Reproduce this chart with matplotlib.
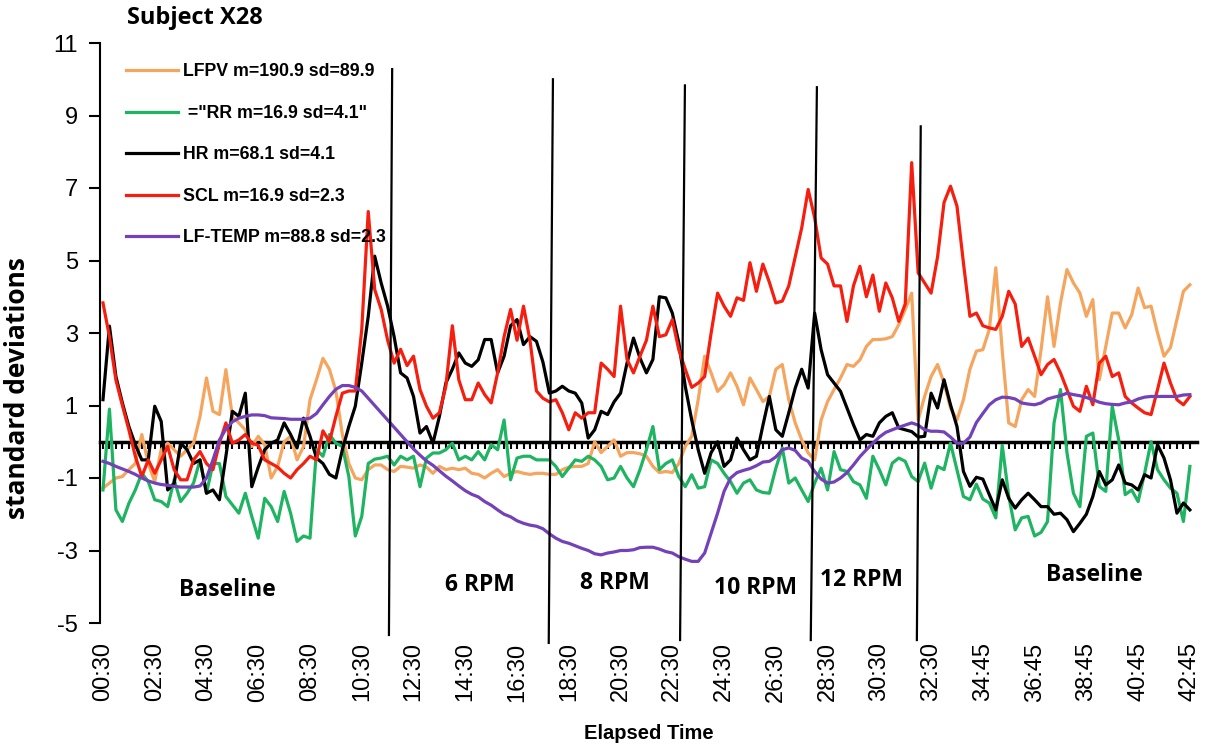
import numpy as np
import matplotlib
matplotlib.use('Agg')
import matplotlib.pyplot as plt

# z-scores, one sample every 15 s
lfpv = [-1.28, -1.14, -1.0, -0.96, -0.77, -0.6, 0.2, -0.6, -1.1, -0.22,
        -0.04, -0.22, -0.4, -0.22, -0.04, 0.7, 1.76, 0.84, 0.75, 1.99,
        0.7, 0.52, 0.33, -0.13, 0.15, -0.08, -1.0, -0.68, 0.0, 0.15,
        -0.5, -0.13, 1.16, 1.71, 2.3, 2.0, 1.4, 0.2, -0.6, -1.0,
        -1.05, -0.77, -0.64, -0.64, -0.77, -0.82, -0.68, -0.7, -0.73, -0.64,
        -0.7, -0.87, -0.68, -0.77, -0.73, -0.77, -0.73, -0.87, -0.9, -1.0,
        -0.87, -0.77, -0.96, -0.87, -0.82, -0.87, -0.9, -0.87, -0.87, -0.9,
        -0.9, -0.77, -0.7, -0.68, -0.68, -0.6, 0.0, -0.3, -0.13, 0.05,
        -0.4, -0.3, -0.3, -0.33, -0.4, -0.68, -0.85, -0.82, -0.85, -0.6,
        -0.13, 0.15, 1.16, 2.36, 1.9, 1.39, 1.57, 1.9, 1.53, 1.02,
        1.76, 1.44, 1.11, 1.25, 2.0, 2.13, 1.16, 0.52, 0.05, -0.31,
        -0.5, 0.6, 1.11, 1.44, 1.76, 2.13, 2.08, 2.26, 2.63, 2.82,
        2.82, 2.84, 2.9, 3.23, 3.65, 4.1, 0.6, 1.25, 1.8, 2.13,
        1.62, 0.93, 0.6, 1.16, 2.0, 2.5, 2.54, 3.1, 4.8, 2.5,
        0.52, 0.42, 1.16, 1.44, 1.25, 2.54, 4.0, 2.63, 3.83, 4.75,
        4.38, 4.1, 3.46, 3.92, 1.71, 2.63, 3.55, 3.55, 3.14, 3.5,
        4.24, 3.7, 3.74, 3.0, 2.36, 2.6, 3.37, 4.15, 4.33]

rr = [-1.33, 0.9, -1.88, -2.2, -1.7, -1.33, -0.87, -1.1, -1.6, -1.65,
      -1.79, -1.05, -1.65, -1.42, -1.14, -0.5, -1.42, -0.6, -0.6, -1.51,
      -1.74, -1.97, -1.42, -2.06, -2.66, -1.56, -1.79, -2.2, -1.37, -1.97,
      -2.75, -2.6, -2.66, -0.22, -0.4, 0.2, -0.04, -0.13, -0.96, -2.6,
      -2.06, -0.6, -0.48, -0.45, -0.4, -0.64, -0.4, -0.5, -0.4, -1.24,
      -0.45, -0.31, -0.31, -0.22, -0.04, -0.5, -0.4, -0.5, -0.27, -0.5,
      -0.08, -0.22, 0.6, -1.05, -0.45, -0.4, -0.4, -0.5, -0.5, -0.5,
      -0.68, -0.96, -0.73, -0.5, -0.54, -0.4, -0.5, -0.68, -1.05, -1.0,
      -0.68, -1.0, -1.24, -0.77, -0.22, 0.42, -0.77, -0.6, -0.5, -0.96,
      -1.24, -0.91, -1.28, -1.24, -0.5, -0.6, -0.87, -1.1, -1.42, -1.14,
      -1.05, -1.33, -1.4, -1.42, -0.73, -0.17, -1.14, -1.0, -1.33, -1.65,
      -1.14, -0.73, -1.33, -0.27, -0.77, -0.82, -1.1, -1.19, -1.56, -0.4,
      -0.77, -1.19, -0.59, -0.45, -0.54, -0.96, -1.1, -0.59, -1.28, -0.68,
      -0.77, -0.04, -0.77, -1.51, -1.6, -1.17, -1.58, -1.69, -2.1, -0.1,
      -1.5, -2.43, -2.1, -2.06, -2.6, -2.5, -2.2, 0.52, 1.44, -0.3,
      -1.42, -1.79, 0.15, 0.24, -1.23, -1.37, 0.98, 0.05, -1.46, -1.33,
      -1.65, -0.87, 0.0, -0.77, -1.05, -1.28, -1.42, -2.2, -0.68]

hr = [1.16, 3.19, 1.8, 1.07, 0.42, -0.08, -0.5, -0.5, 0.98, 0.56,
      -1.33, -1.15, -0.04, -0.22, -0.6, -0.5, -1.42, -1.33, -1.6, -0.4,
      0.84, 0.7, 1.34, -1.24, -0.7, -0.22, -0.04, 0.05, 0.52, 0.2,
      -0.17, 0.65, 0.15, -0.45, -0.6, -0.9, -1.0, -0.22, 0.42, 0.98,
      2.17, 3.46, 5.12, 4.38, 3.74, 2.9, 1.9, 1.76, 1.25, 0.24,
      0.42, -0.04, 0.7, 1.62, 2.0, 2.45, 2.17, 2.08, 2.26, 2.82,
      2.82, 1.9, 2.36, 3.2, 3.37, 2.68, 2.9, 2.77, 2.2, 1.34,
      1.4, 1.53, 1.4, 1.34, 1.07, 0.1, 0.33, 0.84, 0.75, 1.1,
      1.34, 2.17, 2.86, 2.31, 1.9, 2.27, 4.0, 3.97, 3.55, 2.73,
      1.53, 0.6, -0.22, -0.87, -0.3, 0.0, -0.68, -0.5, 0.1, -0.22,
      -0.5, -0.4, 0.45, 1.25, 0.33, 0.15, 0.8, 1.48, 2.0, 1.48,
      3.55, 2.54, 1.85, 1.62, 1.39, 0.93, 0.47, 0.05, 0.2, 0.15,
      0.52, 0.7, 0.8, 0.38, 0.33, 0.28, 0.13, 0.15, 1.34, 0.93,
      1.71, 1.02, 0.42, -0.82, -1.23, -0.98, -1.03, -1.46, -1.88, -1.05,
      -1.56, -1.83, -1.6, -1.42, -1.6, -1.79, -1.79, -2.0, -1.97, -2.15,
      -2.48, -2.25, -2.0, -1.51, -0.82, -1.19, -1.05, -0.64, -1.14, -1.19,
      -1.33, -0.91, -1.0, -0.08, -0.45, -1.05, -1.97, -1.69, -1.88]

scl = [3.83, 2.9, 1.7, 1.0, 0.33, -0.4, -0.96, -0.5, -0.87, -0.5,
       -0.13, -0.77, -1.05, -1.05, -0.5, -0.27, -0.6, -0.77, -0.04, 0.52,
       -0.04, 0.05, 0.2, -0.04, -0.1, -0.5, -0.6, -0.7, -0.87, -1.0,
       -0.77, -0.6, -0.4, -0.5, 0.3, 0.0, 0.7, 1.34, 1.4, 1.4,
       3.1, 6.35, 4.2, 3.65, 2.8, 2.17, 2.55, 2.1, 2.36, 1.44,
       0.98, 0.65, 0.8, 1.53, 3.2, 1.71, 1.16, 1.16, 1.62, 1.3,
       1.07, 1.9, 2.9, 3.65, 2.8, 3.74, 2.8, 1.4, 1.2, 1.1,
       1.16, 0.8, 0.33, 0.8, 0.65, 0.8, 0.8, 2.17, 2.0, 1.8,
       3.74, 2.27, 1.9, 2.36, 2.8, 3.74, 2.9, 2.95, 3.37, 2.54,
       2.0, 1.5, 1.62, 1.8, 3.0, 4.1, 3.74, 3.46, 3.97, 3.9,
       4.94, 4.15, 4.9, 4.4, 3.83, 3.88, 4.3, 5.1, 5.9, 6.96,
       6.18, 5.07, 4.9, 4.3, 4.3, 3.32, 4.3, 4.84, 4.0, 4.6,
       3.6, 4.38, 3.97, 3.32, 3.8, 7.7, 4.66, 4.38, 4.1, 5.1,
       6.6, 7.05, 6.5, 4.93, 3.46, 3.55, 3.2, 3.14, 3.1, 3.46,
       4.15, 3.8, 2.63, 2.86, 2.36, 1.85, 2.13, 2.27, 1.9, 1.44,
       0.98, 0.84, 1.53, 1.02, 2.17, 2.36, 1.8, 1.9, 1.25, 1.07,
       0.93, 0.8, 0.75, 1.44, 2.17, 1.62, 1.16, 1.02, 1.25]

lf_temp = [-0.54, -0.6, -0.68, -0.75, -0.82, -0.9, -1.0, -1.08, -1.14, -1.18,
           -1.2, -1.23, -1.25, -1.25, -1.25, -1.22, -1.0, -0.5, 0.05, 0.35,
           0.55, 0.65, 0.7, 0.74, 0.74, 0.72, 0.66, 0.65, 0.64, 0.62,
           0.62, 0.62, 0.65, 0.78, 1.02, 1.25, 1.45, 1.55, 1.55, 1.5,
           1.4, 1.2, 1.0, 0.8, 0.6, 0.4, 0.2, 0.0, -0.2, -0.37,
           -0.53, -0.65, -0.8, -0.95, -1.08, -1.22, -1.35, -1.45, -1.52, -1.65,
           -1.75, -1.88, -2.0, -2.07, -2.18, -2.25, -2.3, -2.33, -2.4, -2.54,
           -2.66, -2.75, -2.8, -2.87, -2.94, -3.0, -3.09, -3.12, -3.07, -3.04,
           -3.0, -3.0, -2.98, -2.92, -2.91, -2.91, -2.96, -3.03, -3.07, -3.17,
           -3.24, -3.3, -3.3, -3.07, -2.52, -1.97, -1.37, -1.0, -0.85, -0.79,
           -0.74, -0.66, -0.56, -0.54, -0.42, -0.22, -0.17, -0.24, -0.45, -0.54,
           -0.82, -1.03, -1.14, -1.11, -1.0, -0.85, -0.64, -0.41, -0.22, -0.04,
           0.13, 0.26, 0.33, 0.4, 0.46, 0.52, 0.46, 0.33, 0.29, 0.29,
           0.27, 0.13, -0.04, -0.04, 0.13, 0.53, 0.78, 1.02, 1.16, 1.23,
           1.22, 1.18, 1.07, 1.04, 1.02, 1.07, 1.18, 1.23, 1.27, 1.34,
           1.3, 1.27, 1.22, 1.16, 1.09, 1.05, 1.03, 1.02, 1.07, 1.1,
           1.18, 1.23, 1.25, 1.25, 1.25, 1.25, 1.25, 1.29, 1.3]

series_labels = ['LFPV m=190.9 sd=89.9', ' ="RR m=16.9 sd=4.1"', 'HR m=68.1 sd=4.1',
                 'SCL m=16.9 sd=2.3', 'LF-TEMP m=88.8 sd=2.3']
series_colors = ['#F5A55E', '#1EB462', '#000000', '#F51E0F', '#7442B8']

tick_labels = ['00:30', '02:30', '04:30', '06:30', '08:30', '10:30', '12:30', '14:30',
               '16:30', '18:30', '20:30', '22:30', '24:30', '26:30', '28:30', '30:30',
               '32:30', '34:45', '36:45', '38:45', '40:45', '42:45']
label_step = 8

phase_names = ['Baseline', '6 RPM', '8 RPM', '10 RPM', '12 RPM', 'Baseline']
phase_x = [19.3, 58.3, 79.1, 100.9, 117.3, 153.3]
phase_y = [-4.09, -3.95, -3.9, -4.03, -3.81, -3.67]

# hand drawn phase boundaries (slightly slanted in the original)
bound_x_top = [44.7, 69.55, 89.95, 110.35, 126.4]
bound_x_bot = [44.2, 68.9, 89.2, 109.4, 125.8]
bound_y_top = [10.28, 10.0, 9.83, 9.78, 8.7]
bound_y_bot = [-5.33, -5.55, -5.47, -5.47, -5.47]

plt.rcParams['font.family'] = ['Liberation Sans', 'DejaVu Sans']
plt.rcParams['axes.unicode_minus'] = False
title_font = ['Open Sans', 'DejaVu Sans']

fig = plt.figure(figsize=(12.1, 7.46), dpi=100)
ax = fig.add_axes([100 / 1210, 1 - 623 / 746, 1097 / 1210, 580 / 746])

x = np.arange(len(lfpv))
for vals, lab, col in zip([lfpv, rr, hr, scl, lf_temp], series_labels, series_colors):
    ax.plot(x, vals, color=col, lw=2.3, label=lab, zorder=3)

for xt, xb, yt, yb in zip(bound_x_top, bound_x_bot, bound_y_top, bound_y_bot):
    ax.plot([xt, xb], [yt, yb], color='black', lw=1.6, clip_on=False, zorder=4)

for name, px, py in zip(phase_names, phase_x, phase_y):
    ax.text(px, py, name, ha='center', va='center', fontsize=16.5,
            fontweight='bold', family=title_font)

ax.set_xlim(-0.46, 169.1)
ax.set_ylim(-5, 11)
ax.set_yticks(range(-5, 12, 2))

ax.spines['top'].set_visible(False)
ax.spines['right'].set_visible(False)
ax.spines['left'].set_linewidth(1.5)
ax.spines['bottom'].set_position(('data', 0))
ax.spines['bottom'].set_linewidth(2.5)

ax.set_xticks(x)
ax.tick_params(axis='x', direction='out', length=5, width=1.5, labelbottom=False)
ax.tick_params(axis='y', direction='out', length=8, width=1.5, labelsize=17, pad=8)

sec = ax.secondary_xaxis(0)
sec.set_xticks(x[::label_step], labels=tick_labels)
sec.tick_params(length=0, pad=14, labelsize=17, labelrotation=90)
sec.spines['bottom'].set_visible(False)
sec.set_xlabel('Elapsed Time', fontsize=14.5, fontweight='bold', labelpad=16)

ax.set_ylabel('standard deviations', fontsize=19, fontweight='bold', family=title_font)
ax.yaxis.set_label_coords(-0.063, 0.405)

ax.legend(loc='upper left', bbox_to_anchor=(0.0237, 0.965), frameon=False,
          prop={'weight': 'bold', 'size': 12.8}, handlelength=2.9,
          handletextpad=0.3, labelspacing=1.38, borderaxespad=0, borderpad=0)

fig.text(127 / 1210, 1 - 18 / 746, 'Subject X28', ha='left', va='center',
         fontsize=17, fontweight='bold', family=title_font)

fig.savefig('out.png', dpi=100)
